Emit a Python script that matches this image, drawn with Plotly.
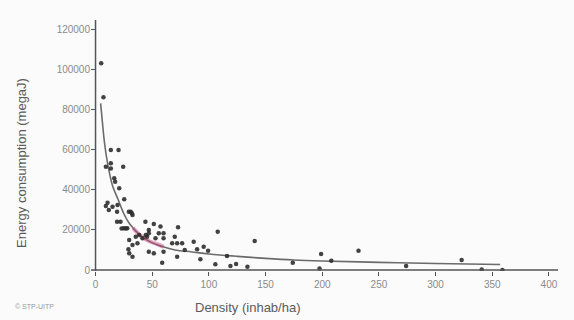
import plotly.graph_objects as go

# Scatter observations (density inhab/ha, energy consumption megaJ)
density = [5, 7, 13.5, 20.3, 9.1, 13.5, 13.5, 24.4, 16.5, 17.3, 20.9, 25.3, 10.6, 9.1, 15,
           11.7, 19, 22, 29.4, 32, 25, 28, 19, 19.4, 31, 32.6, 23, 26.7, 44, 38.5, 35.5,
           29.7, 41.4, 44.3, 32.6, 37, 29, 29.7, 32.6, 47, 51.4, 57.3, 72.8, 47, 55.8, 60,
           45.5, 52.9, 60, 69.9, 67.6, 72, 76.4, 86.6, 89.6, 95.4, 99.3, 47, 51.4, 60, 72,
           58.8, 92.5, 78.7, 107.8, 140.4, 105.7, 119, 124, 134, 116, 174, 199, 197.6, 232,
           208, 274, 323, 340.7, 359]
energy = [103000, 86000, 59800, 59800, 51400, 53100, 50600, 51400, 45700, 44000, 40700,
          35200, 33500, 31900, 31500, 29900, 29000, 24000, 29000, 28200, 20800, 20800, 24000,
          32400, 29000, 27400, 20700, 20700, 24000, 17400, 16600, 14900, 15800, 17400, 12450,
          13300, 10300, 8300, 6600, 18300, 22900, 21600, 21300, 19900, 18300, 18300, 16600,
          15800, 15800, 16600, 13300, 13300, 13300, 14100, 10300, 11600, 9600, 9100, 8300,
          9100, 6600, 3600, 5300, 10000, 19100, 14400, 2800, 2000, 3000, 1600, 7000, 3600,
          8000, 800, 9600, 4600, 2000, 5000, 300, 0]

# Trend curve
fit_x = [4.5, 6, 8, 11, 15, 20, 25, 30, 40, 50, 60, 70, 85, 100, 125, 150, 175, 200, 250, 300, 357]
fit_y = [83000, 74000, 63000, 52000, 42000, 35000, 28000, 23000, 17000, 13500, 11500, 10000,
         9000, 8000, 6800, 5800, 5000, 4500, 3800, 3200, 2700]

# Pinkish highlighted part of the curve
pink_x = [33, 40, 48, 55, 60]
pink_y = [21000, 17000, 14200, 12800, 11500]

x_ticks = [0, 50, 100, 150, 200, 250, 300, 350, 400]
y_ticks = [0, 20000, 40000, 60000, 80000, 100000, 120000]
y_tick_labels = ["0", "20000", "40000", "60000", "80000", "100000", "120000"]

fig = go.Figure()
fig.add_trace(go.Scatter(x=fit_x, y=fit_y, mode="lines",
                         line=dict(color="#6b6b6b", width=1.6, shape="spline"),
                         hoverinfo="skip", showlegend=False))
fig.add_trace(go.Scatter(x=pink_x, y=pink_y, mode="lines",
                         line=dict(color="rgba(200,60,120,0.45)", width=4, shape="spline"),
                         hoverinfo="skip", showlegend=False))
fig.add_trace(go.Scatter(x=density, y=energy, mode="markers",
                         marker=dict(color="#2e2e2e", size=4.5, opacity=0.9),
                         showlegend=False))

fig.update_layout(
    width=574, height=320,
    margin=dict(l=90.5, r=16, t=20, b=49),
    paper_bgcolor="#fbfbfb", plot_bgcolor="#fbfbfb",
    font=dict(family="Liberation Sans, Arial, sans-serif", color="#8a8a8a", size=10),
    xaxis=dict(range=[-4, 408], tickvals=x_ticks, showgrid=False,
               zeroline=False, showline=False, ticks="outside", ticklen=4, tickcolor="#555",
               tickfont=dict(size=10, color="#8a8a8a")),
    yaxis=dict(range=[-500, 124500], tickvals=y_ticks, ticktext=y_tick_labels,
               showgrid=False, zeroline=False, showline=False,
               ticks="inside", ticklen=5, tickcolor="#555",
               tickfont=dict(size=10, color="#8a8a8a")),
    shapes=[dict(type="line", xref="x", yref="paper", x0=0, x1=0, y0=0, y1=1,
                 line=dict(color="#555", width=1.5)),
            dict(type="line", xref="paper", yref="y", x0=0, x1=1, y0=0, y1=0,
                 line=dict(color="#555", width=1.5))],
    annotations=[
        dict(text="Density (inhab/ha)", xref="paper", yref="paper", x=(248 - 90.5) / 467.5,
             y=-0.145, xanchor="center", yanchor="middle", showarrow=False,
             font=dict(size=13, color="#5a5a5a")),
        dict(text="Energy consumption (megaJ)", xref="paper", yref="paper",
             x=-0.148, y=(271 - 163) / 251, textangle=-90, xanchor="center",
             yanchor="middle", showarrow=False, font=dict(size=13, color="#5a5a5a")),
        dict(text="© STP-UITP", xref="paper", yref="paper", x=-0.168, y=-0.14,
             xanchor="left", yanchor="middle", showarrow=False,
             font=dict(size=7, color="#999")),
    ],
)
fig.write_html("out.html", config={"displayModeBar": False},
               post_script="document.body.style.margin='0';document.body.style.background='#fbfbfb';")
